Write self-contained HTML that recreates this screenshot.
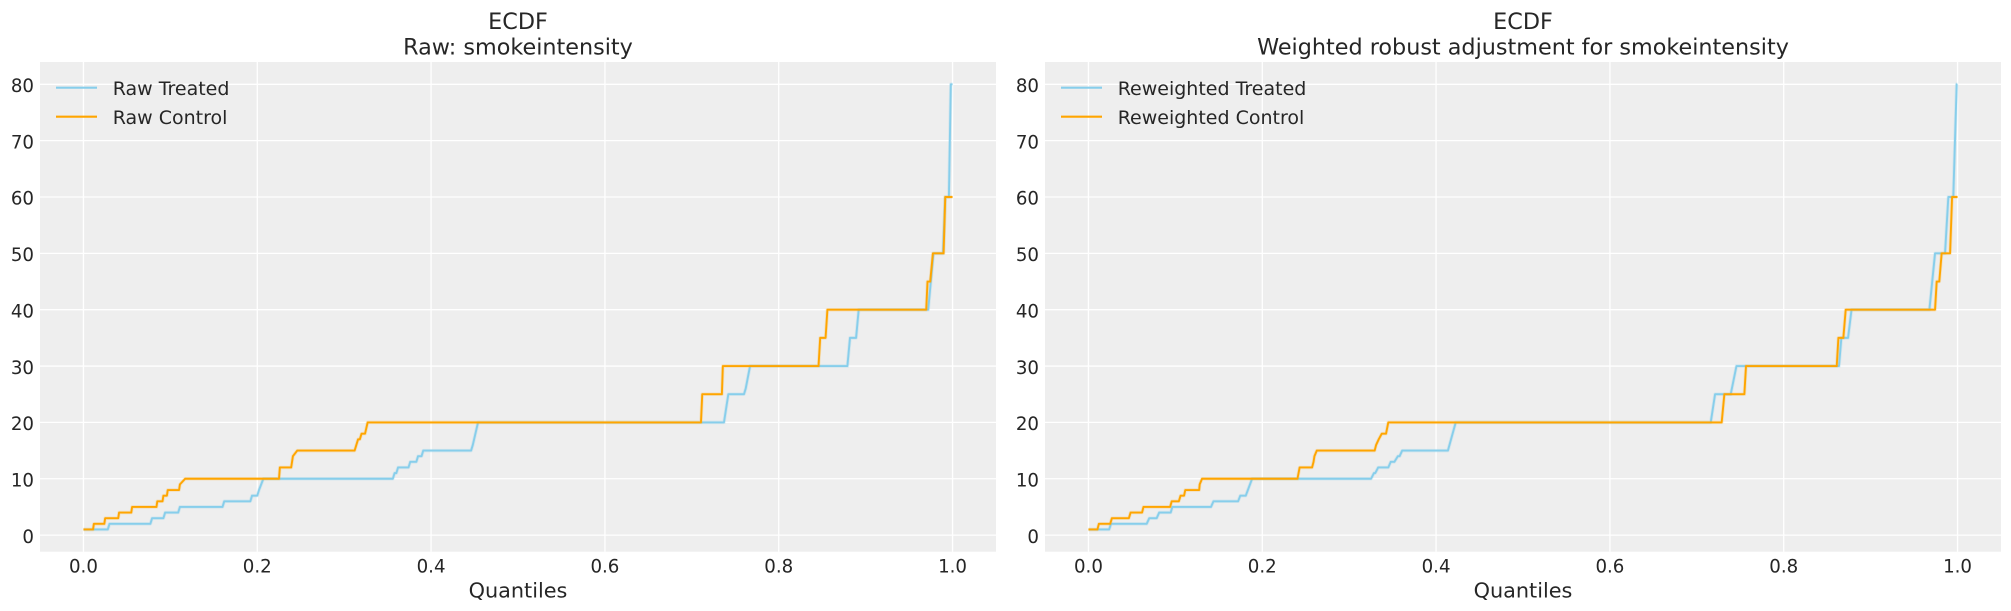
<!DOCTYPE html>
<html>
<head>
<meta charset="utf-8">
<style>
html,body{margin:0;padding:0;background:#ffffff;}
svg{display:block;}
text{font-family:"DejaVu Sans","Liberation Sans",sans-serif;fill:#262626;}
.tick{font-size:18.2px;}
.ttl{font-size:22.3px;}
.lbl{font-size:20.8px;}
.leg{font-size:19px;}
</style>
</head>
<body>
<svg width="2011" height="611" viewBox="0 0 2011 611" xmlns="http://www.w3.org/2000/svg">
<rect x="0" y="0" width="2011" height="611" fill="#ffffff"/>

<!-- ================= LEFT AXES ================= -->
<rect x="40" y="62" width="956" height="489.7" fill="#eeeeee"/>
<g stroke="#ffffff" stroke-width="1.3">
  <line x1="83.45" y1="62" x2="83.45" y2="551.7"/>
  <line x1="257.27" y1="62" x2="257.27" y2="551.7"/>
  <line x1="431.09" y1="62" x2="431.09" y2="551.7"/>
  <line x1="604.91" y1="62" x2="604.91" y2="551.7"/>
  <line x1="778.73" y1="62" x2="778.73" y2="551.7"/>
  <line x1="952.55" y1="62" x2="952.55" y2="551.7"/>
  <line x1="40" y1="535.1" x2="996" y2="535.1"/>
  <line x1="40" y1="478.75" x2="996" y2="478.75"/>
  <line x1="40" y1="422.4" x2="996" y2="422.4"/>
  <line x1="40" y1="366.05" x2="996" y2="366.05"/>
  <line x1="40" y1="309.7" x2="996" y2="309.7"/>
  <line x1="40" y1="253.35" x2="996" y2="253.35"/>
  <line x1="40" y1="197.0" x2="996" y2="197.0"/>
  <line x1="40" y1="140.65" x2="996" y2="140.65"/>
  <line x1="40" y1="84.3" x2="996" y2="84.3"/>
</g>
<g class="tick" text-anchor="end">
  <text x="34" y="542.8">0</text>
  <text x="34" y="486.45">10</text>
  <text x="34" y="430.1">20</text>
  <text x="34" y="373.75">30</text>
  <text x="34" y="317.4">40</text>
  <text x="34" y="261.05">50</text>
  <text x="34" y="204.7">60</text>
  <text x="34" y="148.35">70</text>
  <text x="34" y="92.0">80</text>
</g>
<g class="tick" text-anchor="middle">
  <text x="83.45" y="572.5">0.0</text>
  <text x="257.27" y="572.5">0.2</text>
  <text x="431.09" y="572.5">0.4</text>
  <text x="604.91" y="572.5">0.6</text>
  <text x="778.73" y="572.5">0.8</text>
  <text x="952.55" y="572.5">1.0</text>
</g>
<text class="lbl" x="518" y="597.5" text-anchor="middle">Quantiles</text>
<text class="ttl" x="518" y="29" text-anchor="middle">ECDF</text>
<text class="ttl" x="518" y="54.3" text-anchor="middle">Raw: smokeintensity</text>

<g transform="matrix(869.1,0,0,-5.635,83.45,535.1)" fill="none" stroke-linejoin="round">
  <path vector-effect="non-scaling-stroke" stroke="#87ceeb" stroke-opacity="0.25" stroke-width="3.5"
    d="M0 1 L0.028 1 L0.030 2 L0.077 2 L0.079 3 L0.092 3 L0.094 4 L0.109 4 L0.111 5 L0.160 5 L0.162 6 L0.192 6 L0.194 7 L0.200 7 L0.202 8 L0.207 10 L0.356 10 L0.358 11 L0.360 11 L0.362 12 L0.374 12 L0.376 13 L0.383 13 L0.385 14 L0.389 14 L0.391 15 L0.446 15 L0.448 16 L0.454 20 L0.737 20 L0.739 22 L0.742 25 L0.760 25 L0.762 26 L0.767 30 L0.879 30 L0.882 35 L0.889 35 L0.892 40 L0.972 40 L0.978 50 L0.989 50 L0.9916 60 L0.9958 60 L0.998 80 L1.0 80"/>
  <path vector-effect="non-scaling-stroke" stroke="#87ceeb" stroke-width="1.9"
    d="M0 1 L0.028 1 L0.030 2 L0.077 2 L0.079 3 L0.092 3 L0.094 4 L0.109 4 L0.111 5 L0.160 5 L0.162 6 L0.192 6 L0.194 7 L0.200 7 L0.202 8 L0.207 10 L0.356 10 L0.358 11 L0.360 11 L0.362 12 L0.374 12 L0.376 13 L0.383 13 L0.385 14 L0.389 14 L0.391 15 L0.446 15 L0.448 16 L0.454 20 L0.737 20 L0.739 22 L0.742 25 L0.760 25 L0.762 26 L0.767 30 L0.879 30 L0.882 35 L0.889 35 L0.892 40 L0.972 40 L0.978 50 L0.989 50 L0.9916 60 L0.9958 60 L0.998 80 L1.0 80"/>
  <path vector-effect="non-scaling-stroke" stroke="#ffa500" stroke-opacity="0.2" stroke-width="3.5"
    d="M0 1 L0.011 1 L0.012 2 L0.024 2 L0.025 3 L0.040 3 L0.041 4 L0.055 4 L0.056 5 L0.084 5 L0.085 6 L0.091 6 L0.092 7 L0.096 7 L0.097 8 L0.110 8 L0.111 9 L0.117 10 L0.225 10 L0.226 12 L0.239 12 L0.241 14 L0.246 15 L0.312 15 L0.314 16 L0.316 17 L0.318 17 L0.320 18 L0.324 18 L0.327 20 L0.7105 20 L0.712 25 L0.7346 25 L0.7357 30 L0.8458 30 L0.8477 35 L0.8539 35 L0.856 40 L0.9697 40 L0.9712 45 L0.9743 45 L0.9774 50 L0.9897 50 L0.9916 60 L1.0 60"/>
  <path vector-effect="non-scaling-stroke" stroke="#ffa500" stroke-width="1.9"
    d="M0 1 L0.011 1 L0.012 2 L0.024 2 L0.025 3 L0.040 3 L0.041 4 L0.055 4 L0.056 5 L0.084 5 L0.085 6 L0.091 6 L0.092 7 L0.096 7 L0.097 8 L0.110 8 L0.111 9 L0.117 10 L0.225 10 L0.226 12 L0.239 12 L0.241 14 L0.246 15 L0.312 15 L0.314 16 L0.316 17 L0.318 17 L0.320 18 L0.324 18 L0.327 20 L0.7105 20 L0.712 25 L0.7346 25 L0.7357 30 L0.8458 30 L0.8477 35 L0.8539 35 L0.856 40 L0.9697 40 L0.9712 45 L0.9743 45 L0.9774 50 L0.9897 50 L0.9916 60 L1.0 60"/>
</g>

<!-- legend left -->
<line x1="56" y1="87.7" x2="97" y2="87.7" stroke="#87ceeb" stroke-width="2.2"/>
<line x1="56" y1="116.7" x2="97" y2="116.7" stroke="#ffa500" stroke-width="2.2"/>
<text class="leg" x="112.7" y="95.2">Raw Treated</text>
<text class="leg" x="112.7" y="124.2">Raw Control</text>

<!-- ================= RIGHT AXES ================= -->
<rect x="1045" y="62" width="956" height="489.7" fill="#eeeeee"/>
<g stroke="#ffffff" stroke-width="1.3">
  <line x1="1088.45" y1="62" x2="1088.45" y2="551.7"/>
  <line x1="1262.27" y1="62" x2="1262.27" y2="551.7"/>
  <line x1="1436.09" y1="62" x2="1436.09" y2="551.7"/>
  <line x1="1609.91" y1="62" x2="1609.91" y2="551.7"/>
  <line x1="1783.73" y1="62" x2="1783.73" y2="551.7"/>
  <line x1="1957.55" y1="62" x2="1957.55" y2="551.7"/>
  <line x1="1045" y1="535.1" x2="2001" y2="535.1"/>
  <line x1="1045" y1="478.75" x2="2001" y2="478.75"/>
  <line x1="1045" y1="422.4" x2="2001" y2="422.4"/>
  <line x1="1045" y1="366.05" x2="2001" y2="366.05"/>
  <line x1="1045" y1="309.7" x2="2001" y2="309.7"/>
  <line x1="1045" y1="253.35" x2="2001" y2="253.35"/>
  <line x1="1045" y1="197.0" x2="2001" y2="197.0"/>
  <line x1="1045" y1="140.65" x2="2001" y2="140.65"/>
  <line x1="1045" y1="84.3" x2="2001" y2="84.3"/>
</g>
<g class="tick" text-anchor="end">
  <text x="1039" y="542.8">0</text>
  <text x="1039" y="486.45">10</text>
  <text x="1039" y="430.1">20</text>
  <text x="1039" y="373.75">30</text>
  <text x="1039" y="317.4">40</text>
  <text x="1039" y="261.05">50</text>
  <text x="1039" y="204.7">60</text>
  <text x="1039" y="148.35">70</text>
  <text x="1039" y="92.0">80</text>
</g>
<g class="tick" text-anchor="middle">
  <text x="1088.45" y="572.5">0.0</text>
  <text x="1262.27" y="572.5">0.2</text>
  <text x="1436.09" y="572.5">0.4</text>
  <text x="1609.91" y="572.5">0.6</text>
  <text x="1783.73" y="572.5">0.8</text>
  <text x="1957.55" y="572.5">1.0</text>
</g>
<text class="lbl" x="1523" y="597.5" text-anchor="middle">Quantiles</text>
<text class="ttl" x="1523" y="29" text-anchor="middle">ECDF</text>
<text class="ttl" x="1523" y="54.3" text-anchor="middle">Weighted robust adjustment for smokeintensity</text>

<g transform="matrix(869.1,0,0,-5.635,1088.45,535.1)" fill="none" stroke-linejoin="round">
  <path vector-effect="non-scaling-stroke" stroke="#87ceeb" stroke-opacity="0.25" stroke-width="3.5"
    d="M0 1 L0.0238 1 L0.026 2 L0.067 2 L0.070 3 L0.0785 3 L0.0814 4 L0.0946 4 L0.0966 5 L0.141 5 L0.1439 6 L0.1722 6 L0.1747 7 L0.181 7 L0.1883 10 L0.3252 10 L0.3285 11 L0.330 11 L0.3334 12 L0.345 12 L0.3478 13 L0.352 13 L0.356 14 L0.358 14 L0.361 15 L0.4136 15 L0.4226 20 L0.716 20 L0.721 25 L0.739 25 L0.7456 30 L0.8636 30 L0.8663 35 L0.874 35 L0.878 40 L0.9676 40 L0.9741 50 L0.9856 50 L0.9894 60 L0.9951 60 L0.999 80 L0.9997 80"/>
  <path vector-effect="non-scaling-stroke" stroke="#87ceeb" stroke-width="1.9"
    d="M0 1 L0.0238 1 L0.026 2 L0.067 2 L0.070 3 L0.0785 3 L0.0814 4 L0.0946 4 L0.0966 5 L0.141 5 L0.1439 6 L0.1722 6 L0.1747 7 L0.181 7 L0.1883 10 L0.3252 10 L0.3285 11 L0.330 11 L0.3334 12 L0.345 12 L0.3478 13 L0.352 13 L0.356 14 L0.358 14 L0.361 15 L0.4136 15 L0.4226 20 L0.716 20 L0.721 25 L0.739 25 L0.7456 30 L0.8636 30 L0.8663 35 L0.874 35 L0.878 40 L0.9676 40 L0.9741 50 L0.9856 50 L0.9894 60 L0.9951 60 L0.999 80 L0.9997 80"/>
  <path vector-effect="non-scaling-stroke" stroke="#ffa500" stroke-opacity="0.2" stroke-width="3.5"
    d="M0 1 L0.0103 1 L0.012 2 L0.025 2 L0.027 3 L0.0465 3 L0.0485 4 L0.0617 4 L0.0633 5 L0.094 5 L0.0958 6 L0.104 6 L0.106 7 L0.110 7 L0.1114 8 L0.1274 8 L0.128 9 L0.1307 10 L0.2405 10 L0.243 12 L0.2573 12 L0.259 13 L0.260 14 L0.2627 15 L0.3293 15 L0.331 16 L0.334 17 L0.3375 18 L0.3424 18 L0.345 20 L0.7286 20 L0.7317 25 L0.7547 25 L0.7566 30 L0.861 30 L0.8629 35 L0.8686 35 L0.8713 40 L0.9741 40 L0.976 45 L0.979 45 L0.9817 50 L0.9914 50 L0.9937 60 L1.0 60"/>
  <path vector-effect="non-scaling-stroke" stroke="#ffa500" stroke-width="1.9"
    d="M0 1 L0.0103 1 L0.012 2 L0.025 2 L0.027 3 L0.0465 3 L0.0485 4 L0.0617 4 L0.0633 5 L0.094 5 L0.0958 6 L0.104 6 L0.106 7 L0.110 7 L0.1114 8 L0.1274 8 L0.128 9 L0.1307 10 L0.2405 10 L0.243 12 L0.2573 12 L0.259 13 L0.260 14 L0.2627 15 L0.3293 15 L0.331 16 L0.334 17 L0.3375 18 L0.3424 18 L0.345 20 L0.7286 20 L0.7317 25 L0.7547 25 L0.7566 30 L0.861 30 L0.8629 35 L0.8686 35 L0.8713 40 L0.9741 40 L0.976 45 L0.979 45 L0.9817 50 L0.9914 50 L0.9937 60 L1.0 60"/>
</g>

<!-- legend right -->
<line x1="1061" y1="87.7" x2="1102" y2="87.7" stroke="#87ceeb" stroke-width="2.2"/>
<line x1="1061" y1="116.7" x2="1102" y2="116.7" stroke="#ffa500" stroke-width="2.2"/>
<text class="leg" x="1117.7" y="95.2">Reweighted Treated</text>
<text class="leg" x="1117.7" y="124.2">Reweighted Control</text>
</svg>
</body>
</html>
